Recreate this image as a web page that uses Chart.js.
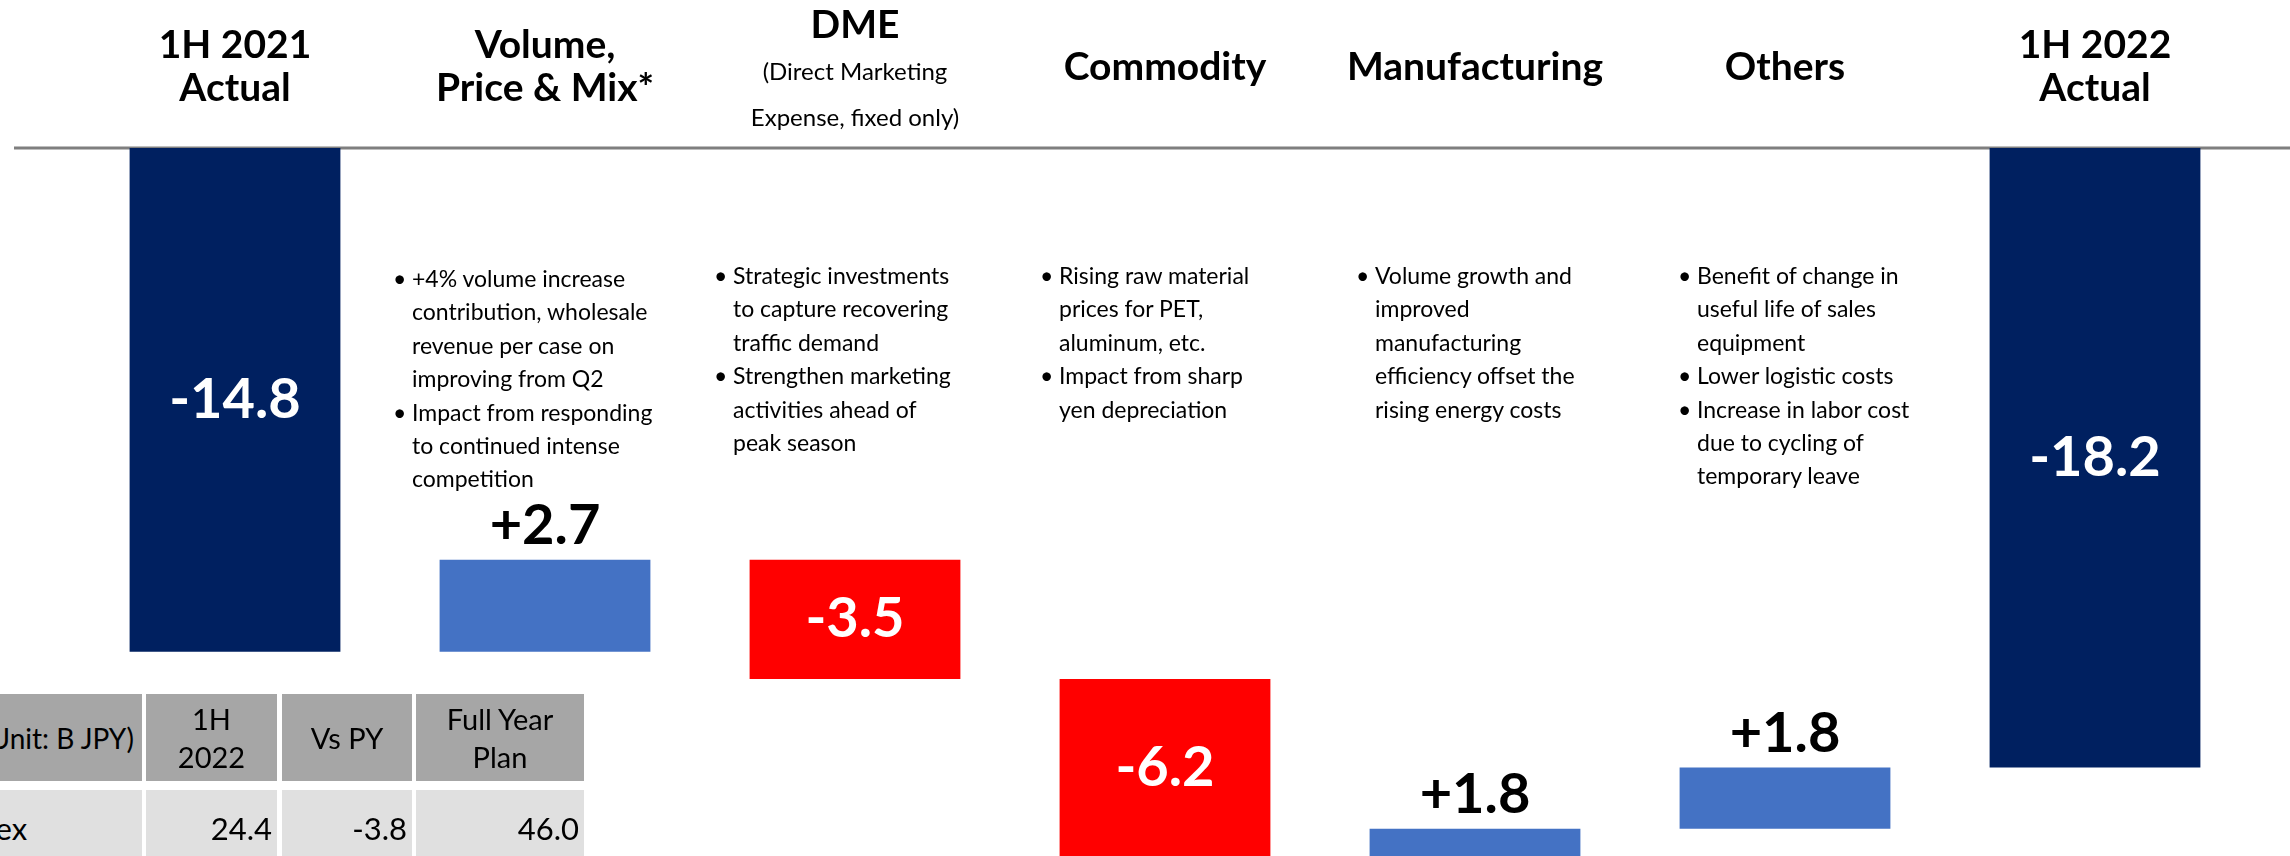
<!DOCTYPE html>
<html>
<head>
<meta charset="utf-8">
<script src="https://cdn.jsdelivr.net/npm/chart.js@4.4.1/dist/chart.umd.min.js"></script>
<style>
  html, body { margin: 0; padding: 0; background: #fff; }
  body { width: 2290px; height: 856px; overflow: hidden; position: relative; font-family: Lato, "Open Sans", sans-serif; }
  #bridge { position: absolute; left: 0; top: 0; }
  .note { position: absolute; font-size: 23px; line-height: 33.4px; color: #000; white-space: nowrap; }
  .note div { position: relative; padding-left: 19px; }
  .note div.first::before { content: "\2022"; position: absolute; left: 0; }
  .cell { position: absolute; box-sizing: border-box; display: flex; align-items: center; justify-content: center;
          text-align: center; color: #000; white-space: pre-line; overflow: hidden; }
</style>
</head>
<body>
<canvas id="bridge" width="2290" height="856"></canvas>
<div id="notes"></div>
<div id="capexTable"></div>
<script>
// Operating profit bridge, 1H 2021 -> 1H 2022 (B JPY)
const categories = ['1H 2021 Actual', 'Volume, Price & Mix*', 'DME', 'Commodity', 'Manufacturing', 'Others', '1H 2022 Actual'];
const startTotal = -14.8;
const deltas = [2.7, -3.5, -6.2, 1.8, 1.8];
const endTotal = -18.2;

const headerLines = [
    ['1H 2021', 'Actual'],
    ['Volume,', 'Price & Mix*'],
    ['DME'],
    ['Commodity'],
    ['Manufacturing'],
    ['Others'],
    ['1H 2022', 'Actual']
];
const dmeSubtitle = ['(Direct Marketing', 'Expense, fixed only)'];

// bullet notes under each driver, one list of lines per bullet
const notes = [
    [['+4% volume increase', 'contribution, wholesale', 'revenue per case on', 'improving from Q2'],
     ['Impact from responding', 'to continued intense', 'competition']],
    [['Strategic investments', 'to capture recovering', 'traffic demand'],
     ['Strengthen marketing', 'activities ahead of', 'peak season']],
    [['Rising raw material', 'prices for PET,', 'aluminum, etc.'],
     ['Impact from sharp', 'yen depreciation']],
    [['Volume growth and', 'improved', 'manufacturing', 'efficiency offset the', 'rising energy costs']],
    [['Benefit of change in', 'useful life of sales', 'equipment'],
     ['Lower logistic costs'],
     ['Increase in labor cost', 'due to cycling of', 'temporary leave']]
];

const tableHeader = ['(Unit: B JPY)', '1H\n2022', 'Vs PY', 'Full Year\nPlan'];
const tableRow = ['Capex', '24.4', '-3.8', '46.0'];

// colours
const NAVY = '#002060';
const BLUE = '#4472C4';
const RED = '#FF0000';

// build floating bars for the waterfall
const ranges = [[0, startTotal]];
const values = [startTotal];
let running = startTotal;
deltas.forEach(d => {
    const next = Math.round((running + d) * 10) / 10;
    ranges.push([running, next]);
    values.push(d);
    running = next;
});
ranges.push([0, endTotal]);
values.push(endTotal);

const isTotal = i => i === 0 || i === values.length - 1;
const barColors = values.map((v, i) => isTotal(i) ? NAVY : (v > 0 ? BLUE : RED));

// baseline line + headers + value labels
const bridgeDecor = {
    id: 'bridgeDecor',
    beforeDatasetsDraw(chart) {
        const ctx = chart.ctx;
        const y0 = chart.scales.y.getPixelForValue(0);
        ctx.save();
        ctx.strokeStyle = '#7F7F7F';
        ctx.lineWidth = 3;
        ctx.beginPath();
        ctx.moveTo(14, y0);
        ctx.lineTo(chart.width, y0);
        ctx.stroke();
        ctx.restore();
    },
    afterDatasetsDraw(chart) {
        const ctx = chart.ctx;
        const xs = chart.scales.x;
        const area = chart.chartArea;
        ctx.save();
        ctx.textAlign = 'center';
        ctx.textBaseline = 'middle';

        // column headers
        headerLines.forEach((lines, i) => {
            const x = xs.getPixelForValue(i);
            ctx.fillStyle = '#000';
            ctx.font = 'bold 39px Lato';
            if (lines.length === 2) {
                ctx.fillText(lines[0], x, 45);
                ctx.fillText(lines[1], x, 88);
            } else if (i === 2) {
                ctx.fillText(lines[0], x, 25);
                ctx.font = '24px Lato';
                ctx.fillText(dmeSubtitle[0], x, 72);
                ctx.fillText(dmeSubtitle[1], x, 118);
            } else {
                ctx.fillText(lines[0], x, 67);
            }
        });

        // value labels
        const meta = chart.getDatasetMeta(0);
        ctx.font = 'bold 56px Lato';
        meta.data.forEach((bar, i) => {
            const v = values[i];
            const p = bar.getProps(['x', 'y', 'base'], true);
            const top = Math.min(p.y, p.base);
            const bottom = Math.min(Math.max(p.y, p.base), area.bottom);
            const text = (v > 0 ? '+' : '') + v.toFixed(1);
            if (v > 0 && !isTotal(i)) {
                ctx.fillStyle = '#000';
                ctx.textBaseline = 'alphabetic';
                ctx.fillText(text, p.x, top - 16);
            } else {
                ctx.fillStyle = '#fff';
                ctx.textBaseline = 'middle';
                ctx.fillText(text, p.x, (top + bottom) / 2);
            }
        });
        ctx.restore();
    }
};

new Chart(document.getElementById('bridge'), {
    type: 'bar',
    data: {
        labels: categories,
        datasets: [{
            data: ranges,
            backgroundColor: barColors,
            borderWidth: 0,
            barPercentage: 0.68,
            categoryPercentage: 1
        }]
    },
    options: {
        responsive: false,
        animation: false,
        devicePixelRatio: 1,
        layout: { padding: { left: 80, right: 40, top: 148, bottom: 0 } },
        scales: {
            x: { display: false },
            y: { display: false, min: -20.8, max: 0 }
        },
        plugins: {
            legend: { display: false },
            tooltip: { enabled: false }
        }
    },
    plugins: [bridgeDecor]
});

// bullet notes (HTML text)
const notePos = [
    { left: 393, top: 262 },
    { left: 714, top: 259 },
    { left: 1040, top: 259 },
    { left: 1356, top: 259 },
    { left: 1678, top: 259 }
];
const notesEl = document.getElementById('notes');
notes.forEach((bullets, c) => {
    const box = document.createElement('div');
    box.className = 'note';
    box.style.left = notePos[c].left + 'px';
    box.style.top = notePos[c].top + 'px';
    bullets.forEach(lines => {
        lines.forEach((line, k) => {
            const row = document.createElement('div');
            if (k === 0) row.className = 'first';
            row.textContent = line;
            box.appendChild(row);
        });
    });
    notesEl.appendChild(box);
});

// capex table at bottom left
const colX = [[-80, 142], [146, 277], [282, 412], [416, 584]];
const tableEl = document.getElementById('capexTable');
function addCell(text, c, top, height, bg, style) {
    const el = document.createElement('div');
    el.className = 'cell';
    el.textContent = text;
    el.style.left = colX[c][0] + 'px';
    el.style.width = (colX[c][1] - colX[c][0]) + 'px';
    el.style.top = top + 'px';
    el.style.height = height + 'px';
    el.style.background = bg;
    Object.assign(el.style, style);
    tableEl.appendChild(el);
}
tableHeader.forEach((t, c) => {
    addCell(t, c, 694, 87, '#A6A6A6', c === 0
        ? { fontSize: '28px', justifyContent: 'flex-end', paddingRight: '8px' }
        : { fontSize: '29px', lineHeight: '38px' });
});
tableRow.forEach((t, c) => {
    addCell(t, c, 790, 76, '#E0E0E0', c === 0
        ? { fontSize: '31px', justifyContent: 'flex-start', paddingLeft: '22px' }
        : { fontSize: '31px', justifyContent: 'flex-end', paddingRight: '5px' });
});
</script>
</body>
</html>
